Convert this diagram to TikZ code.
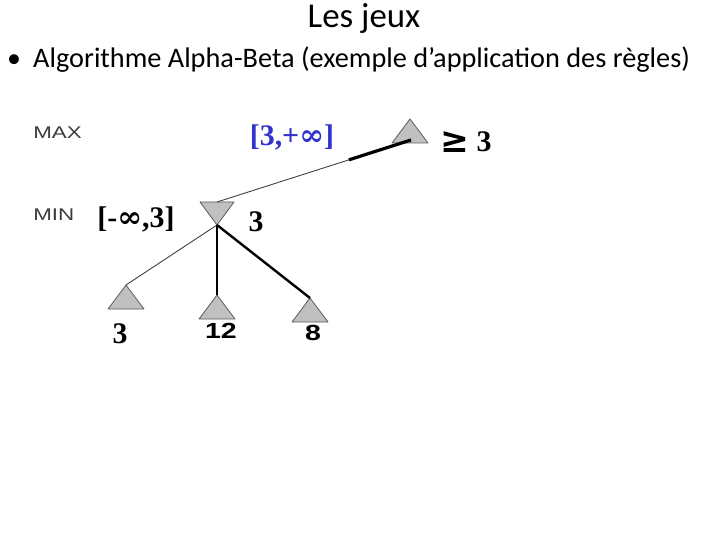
\documentclass[tikz,border=0pt]{standalone}
\usepackage{fontspec}
\setmainfont{Carlito}
\newfontfamily\timesfont{Liberation Serif}
\newfontfamily\arialfont{Liberation Sans}
\newfontfamily\symfont{DejaVu Serif}
\usetikzlibrary{calc}

\definecolor{triGray}{RGB}{192,192,192}
\definecolor{triEdge}{RGB}{90,90,90}
\definecolor{boundBlue}{RGB}{51,51,204}
\definecolor{levelGray}{RGB}{60,60,60}

\newcommand{\infsym}{{\symfont ∞}}
\newcommand{\geqsym}{\raisebox{-1bp}{\scalebox{1.15}[1.2]{\symfont\bfseries ≥}}}

\tikzset{
    uptri/.pic={
        \path[tri] (-18,12) -- (0,-12) -- (18,12) -- cycle;
        \coordinate (-apex) at (0,-12);
        \coordinate (-base) at (0,12);
        \coordinate (-in) at (1,9);
    },
    downtri/.pic={
        \path[tri] (-17,-11) -- (0,12) -- (17,-11) -- cycle;
        \coordinate (-apex) at (0,12);
        \coordinate (-base) at (0,-11);
    }
}

\begin{document}
\begin{tikzpicture}[
        x=1bp, y=-1bp,
        tri/.style={fill=triGray, draw=triEdge, line width=0.8pt, line join=round},
        thin edge/.style={draw=black!75, line width=0.9pt},
        thick edge/.style={draw=black, line width=2.4pt},
        level/.style={font=\arialfont\fontsize{17}{19}\selectfont, text=levelGray, xscale=1.32, anchor=west, inner sep=0pt},
        bound/.style={font=\timesfont\bfseries\fontsize{30}{32}\selectfont, inner sep=0pt, anchor=base},
        leafval/.style={font=\arialfont\bfseries\fontsize{22}{24}\selectfont, xscale=1.3, inner sep=0pt, anchor=base}
    ]
    \useasboundingbox (0,0) rectangle (720,540);

    % titre et texte
    \node[font=\fontsize{35}{38}\selectfont, inner sep=0pt, anchor=base] (title) at (364,28) {Les jeux};
    \node[font=\fontsize{28}{32}\selectfont, inner sep=0pt] (dot) at (14,61) {\textbullet};
    \node[font=\fontsize{28.4}{32}\selectfont, anchor=base west, inner sep=0pt] (bullet) at (33,68)
        {Algorithme Alpha-Beta (exemple d’application des règles)};

    % niveaux
    \node[level] (maxlbl) at (33,133) {MAX};
    \node[level] (minlbl) at (33,215) {MIN};

    % arbre
    \pic (mx) at (410,131) {uptri};
    \pic (mn) at (217,213) {downtri};
    \pic (la) at (126,297) {uptri};
    \pic (lb) at (217,307) {uptri};
    \pic (lc) at (310,310) {uptri};

    \coordinate (cut) at ($(mn-base)!0.68!(mx-in)$);
    \draw[thin edge] (mn-base) -- (cut);
    \draw[thick edge, line width=3.2pt] (cut) -- (mx-in);
    \draw[thin edge] (mn-apex) -- (la-apex);
    \draw[thick edge] (mn-apex) -- (lb-apex);
    \draw[thick edge] (mn-apex) -- (lc-apex);

    % valeurs
    \node[bound, text=boundBlue] (rootint) at (292,146) {[3,+\infsym]};
    \node[bound] (rootval) at (466,152) {\geqsym\ 3};
    \node[bound] (minint) at (136,228) {[-\infsym,3]};
    \node[bound] (minval) at (256,232) {3};
    \node[bound] (vala) at (120,343) {3};
    \node[leafval] (valb) at (221,338) {12};
    \node[leafval] (valc) at (313,340) {8};
\end{tikzpicture}
\end{document}
